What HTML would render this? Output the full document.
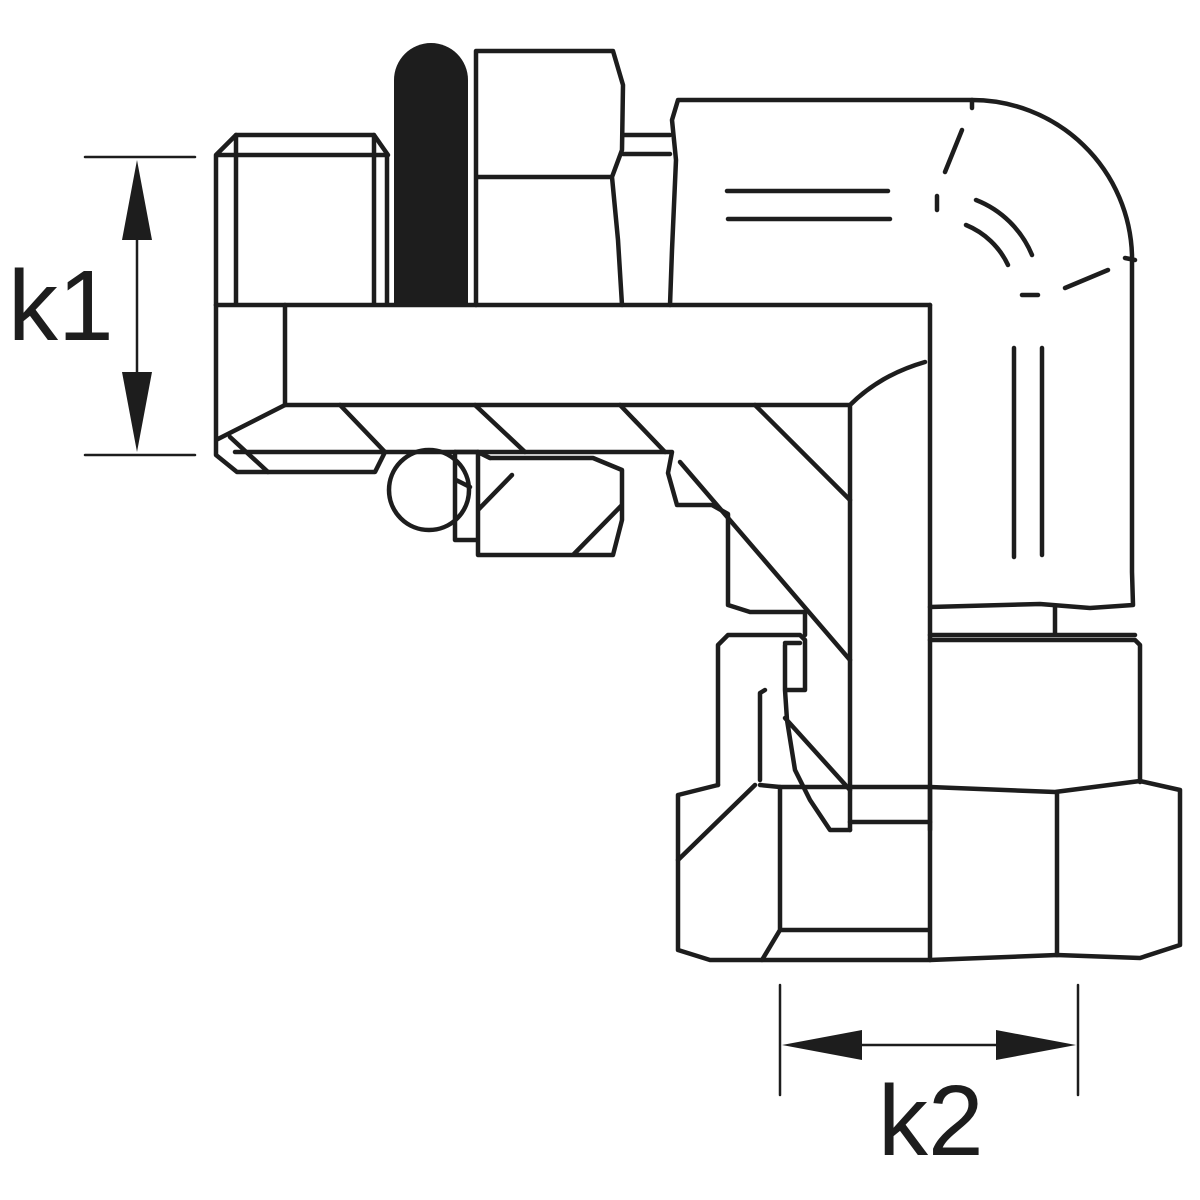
<!DOCTYPE html>
<html><head><style>html,body{margin:0;padding:0;background:#fff}svg{display:block}</style></head>
<body>
<svg width="1200" height="1200" viewBox="0 0 1200 1200" xmlns="http://www.w3.org/2000/svg">
<g fill="none" stroke="#1d1d1d" stroke-width="4.5" stroke-linejoin="round" stroke-linecap="round">
<!-- thread stub -->
<path d="M216,305 L216,155 L236,135 L374,135 L388,155 L216,155"/>
<path d="M236,135 L236,305 M374,135 L374,305 M387,155 L387,305 M216,305 L930,305"/>
<!-- hex nut top -->
<path d="M476,305 L476,51 L613,51 L623,85 L622,150 L612,177 L476,177 M612,177 L618,240 L622,305"/>
<path d="M623,135 L670,135 M623,154 L670,154"/>
<!-- elbow outer -->
<path d="M670,305 L672,250 L676,160 L672,120 L678,100 L972,100 A160,160 0 0 1 1132,255 L1132,572 L1133,605 L1090,608 L1040,604 L930,607"/>
<path d="M972,100 L972,108 M1125,258 L1135,260"/>
<path d="M727,191 L888,191 M728,219 L890,219"/>
<path d="M962,130 L945,172 M937,196 L937,210 M976,200 A100,100 0 0 1 1032,255 M966,225 A80,80 0 0 1 1008,265 M1022,295 L1038,295 M1065,288 L1108,270"/>
<path d="M1014,348 L1014,557 M1042,348 L1042,555"/>
<!-- main bore -->
<path d="M930,305 L930,830 M850,405 L850,830 M285,305 L285,405 L850,405 Q880,375 925,362"/>
<path d="M216,305 L216,455 L237,472 L375,472 L385,452 M216,440 L285,405 M235,452 L672,452 L668,473 L677,505 L712,505 L728,514 L728,605 L750,612 L805,612 L805,635"/>
<path d="M340,405 L385,452 M230,437 L268,472 M475,405 L525,452 M620,405 L665,452 M755,405 L850,500 M680,462 L850,660"/>
<!-- o-ring circle and nut -->
<circle cx="429" cy="490" r="40"/>
<path d="M455,452 L455,540 L478,540 M478,452 L478,555 L613,555 L622,520 L622,470 L593,458 L490,458 L478,452 M478,510 L512,475 M573,555 L622,505 M456,480 L470,487"/>
<path d="M455,452 L478,452 L490,458"/>
<!-- bottom collar -->
<path d="M718,785 L718,645 L728,635 L800,635 L805,640 L805,690 L785,690 L785,645 M800,643 L785,643 M765,690 L760,693 L760,780 M785,690 L787,720 L795,770 L810,800 L830,830 L850,830 M850,822 L930,822 M785,718 L850,790"/>
<path d="M930,640 L1135,640 L1140,645 L1140,782 M930,635 L1135,635 M1055,607 L1055,635"/>
<!-- lower hex -->
<path d="M678,795 L718,785 M760,785 L780,787 L930,787 L1055,792 L1140,781 L1180,790 L1180,945 L1140,958 L1057,955 L930,960 L780,960 L755,960 L710,960 L678,950 L678,795"/>
<path d="M780,787 L780,930 L762,960 M780,930 L930,930 M930,787 L930,960 M1057,792 L1057,955 M678,860 L755,785"/>
<!-- dimension k1 -->
<path d="M85,157 L195,157 M85,455 L195,455 M137,240 L137,372" stroke-width="2.5"/>
<!-- dimension k2 -->
<path d="M780,985 L780,1095 M1078,985 L1078,1095 M862,1045 L998,1045" stroke-width="2.5"/>
</g>
<path d="M394,305 L394,80 A37,37 0 0 1 468,80 L468,305 Z" fill="#1d1d1d"/>
<g fill="#1d1d1d">
<polygon points="137,160 122,240 152,240"/>
<polygon points="137,452 122,372 152,372"/>
<polygon points="782,1045 862,1030 862,1060"/>
<polygon points="1076,1045 996,1030 996,1060"/>
</g>
<text x="8" y="340" font-family="Liberation Sans, sans-serif" font-size="100" fill="#1d1d1d">k1</text>
<text x="878" y="1155" font-family="Liberation Sans, sans-serif" font-size="100" fill="#1d1d1d">k2</text>
</svg>
</body></html>
